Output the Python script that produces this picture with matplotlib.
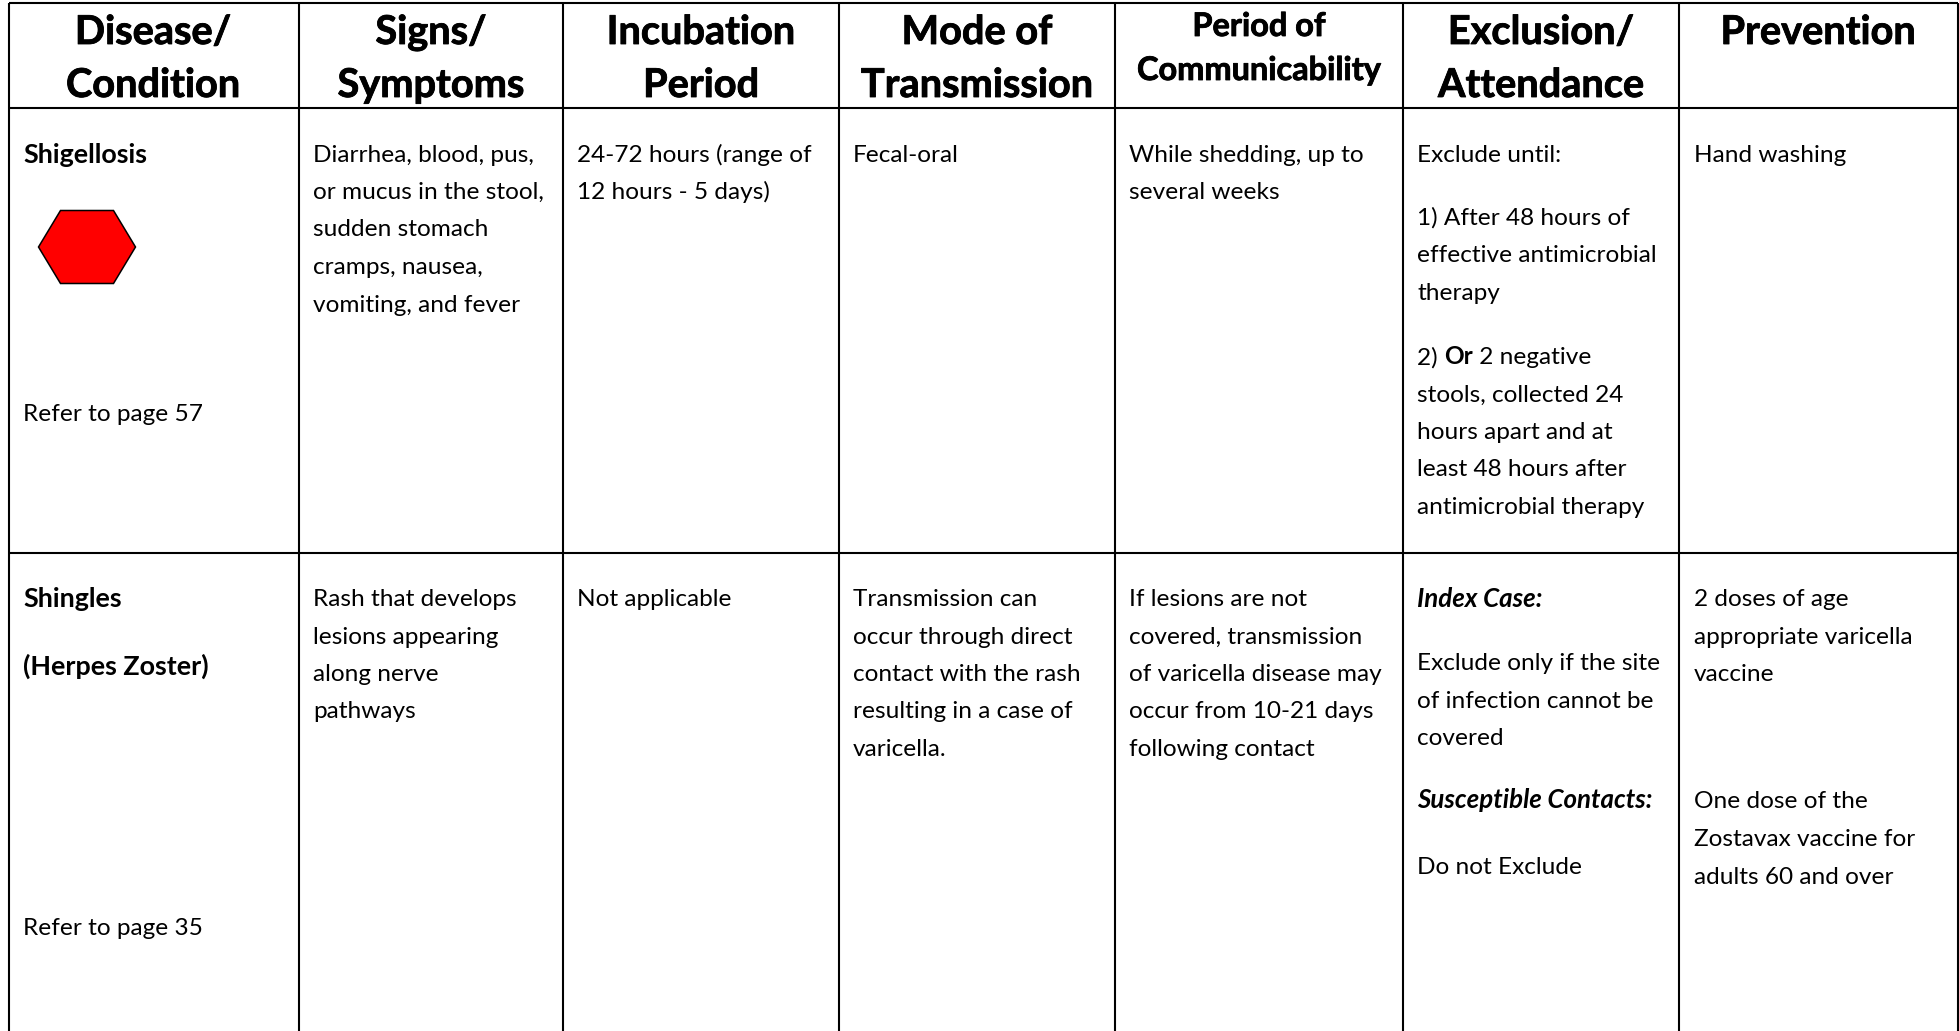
import matplotlib
matplotlib.use("Agg")
import matplotlib.pyplot as plt
import matplotlib.patheffects as pe
from matplotlib.patches import Polygon

plt.rcParams['font.family'] = ['Lato', 'DejaVu Sans']

WIDTH = 1959
HEIGHT = 1031
BODY_SIZE = 17.6
BOLD_SIZE = 19.4
BOLD_ITALIC_SIZE = 18.6
HEAD_SIZE = 28.6
SMALL_HEAD_SIZE = 23.4

col_lines = [9, 299, 563, 839, 1115, 1403, 1679, 1958]
row_lines = [3, 108, 553]

headers = [
    ["Disease/", "Condition"],
    ["Signs/", "Symptoms"],
    ["Incubation", "Period"],
    ["Mode of", "Transmission"],
    ["Period of", "Communicability"],
    ["Exclusion/", "Attendance"],
    ["Prevention"],
]
head_centers = [153, 431, 701, 977, 1259, 1541, 1818]
head_y = [44, 97]
small_head_y = [36, 80]

disease_text = ["Shigellosis", "Shingles", "(Herpes Zoster)"]
disease_y = [163, 607, 675]
refer_text = ["Refer to page 57", "Refer to page 35"]
refer_y = [421, 935]

signs_1 = ["Diarrhea, blood, pus,", "or mucus in the stool,", "sudden stomach", "cramps, nausea,",
           "vomiting, and fever"]
signs_2 = ["Rash that develops", "lesions appearing", "along nerve", "pathways"]
incubation_1 = ["24-72 hours (range of", "12 hours - 5 days)"]
incubation_2 = ["Not applicable"]
mode_1 = ["Fecal-oral"]
mode_2 = ["Transmission can", "occur through direct", "contact with the rash",
          "resulting in a case of", "varicella."]
period_1 = ["While shedding, up to", "several weeks"]
period_2 = ["If lesions are not", "covered, transmission", "of varicella disease may",
            "occur from 10-21 days", "following contact"]
exclusion_1a = ["Exclude until:"]
exclusion_1b = ["1) After 48 hours of", "effective antimicrobial", "therapy"]
exclusion_1c = ["stools, collected 24", "hours apart and at", "least 48 hours after",
                "antimicrobial therapy"]
exclusion_2a = ["Exclude only if the site", "of infection cannot be", "covered"]
prevention_1 = ["Hand washing"]
prevention_2a = ["2 doses of age", "appropriate varicella", "vaccine"]
prevention_2b = ["One dose of the", "Zostavax vaccine for", "adults 60 and over"]

# text block, left edge, first baseline
body_blocks = [
    (signs_1, 313, 161.5),
    (signs_2, 313, 606),
    (incubation_1, 577, 161.5),
    (incubation_2, 577, 606),
    (mode_1, 853, 161.5),
    (mode_2, 853, 606),
    (period_1, 1129, 161.5),
    (period_2, 1129, 606),
    (exclusion_1a, 1417, 161.5),
    (exclusion_1b, 1417, 225),
    (exclusion_1c, 1417, 401.5),
    (exclusion_2a, 1417, 670),
    (["Do not Exclude"], 1417, 873.5),
    (prevention_1, 1694, 161.5),
    (prevention_2a, 1694, 606),
    (prevention_2b, 1694, 808.5),
]
LINE_STEP = 37.5

fig = plt.figure(figsize=(WIDTH / 100, HEIGHT / 100), dpi=100)
ax = fig.add_axes([0, 0, 1, 1])
ax.set_xlim(0, WIDTH)
ax.set_ylim(HEIGHT, 0)
ax.axis("off")

for x in col_lines:
    ax.plot([x, x], [row_lines[0], HEIGHT], color="black", lw=1.5, solid_capstyle="butt")
for y in row_lines:
    ax.plot([col_lines[0], col_lines[-1]], [y, y], color="black", lw=1.5, solid_capstyle="butt")

# a thin stroke brings Lato bold closer to the heavier header weight
heavy = [pe.withStroke(linewidth=0.6, foreground="black")]
for lines, cx in zip(headers, head_centers):
    small = lines[0] == "Period of"
    ys = small_head_y if small else head_y
    size = SMALL_HEAD_SIZE if small else HEAD_SIZE
    for line, y in zip(lines, ys):
        ax.text(cx, y, line, ha="center", va="baseline", fontsize=size, fontweight="bold", path_effects=heavy)

for line, y in zip(disease_text, disease_y):
    ax.text(23, y, line, va="baseline", fontsize=BOLD_SIZE, fontweight="bold")
for line, y in zip(refer_text, refer_y):
    ax.text(23, y, line, va="baseline", fontsize=BODY_SIZE)

for lines, x, y0 in body_blocks:
    for i, line in enumerate(lines):
        ax.text(x, y0 + i * LINE_STEP, line, va="baseline", fontsize=BODY_SIZE)

ax.text(1417, 607, "Index Case:", va="baseline", fontsize=BOLD_ITALIC_SIZE, fontweight="bold", style="italic")
ax.text(1417, 808.5, "Susceptible Contacts:", va="baseline", fontsize=BOLD_ITALIC_SIZE, fontweight="bold",
        style="italic")

# mixed weight line in the exclusion cell
renderer = fig.canvas.get_renderer()
x_pos = 1417
for piece, weight in [("2) ", "normal"), ("Or", "bold"), (" 2 negative", "normal")]:
    t = ax.text(x_pos, 364.5, piece, va="baseline", fontsize=BODY_SIZE, fontweight=weight)
    x_pos = x_pos + t.get_window_extent(renderer).width

# hexagon marker under Shigellosis
hex_cx, hex_cy, hex_w, hex_h, hex_top = 87, 247, 97, 73, 53
hexagon = Polygon([(hex_cx - hex_w / 2, hex_cy), (hex_cx - hex_top / 2, hex_cy - hex_h / 2),
                   (hex_cx + hex_top / 2, hex_cy - hex_h / 2), (hex_cx + hex_w / 2, hex_cy),
                   (hex_cx + hex_top / 2, hex_cy + hex_h / 2), (hex_cx - hex_top / 2, hex_cy + hex_h / 2)],
                  closed=True, facecolor="#ff0000", edgecolor="black", lw=1.1)
ax.add_patch(hexagon)

fig.savefig("out.png", dpi=100, facecolor="white")
